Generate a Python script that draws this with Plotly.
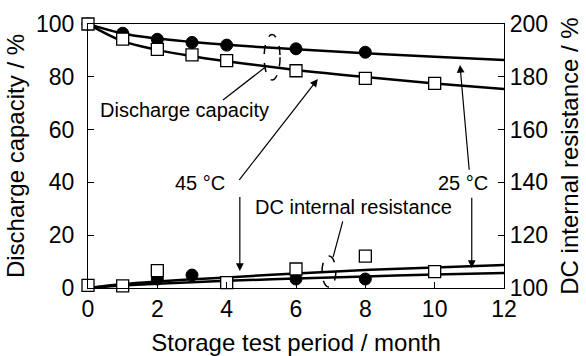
import plotly.graph_objects as go

# ---- data ----
month_cap_25 = [0, 1, 2, 3, 4, 6, 8]
cap_25 = [100, 96.5, 94.2, 93.0, 92.0, 90.6, 89.3]
month_cap_45 = [0, 1, 2, 3, 4, 6, 8, 10]
cap_45 = [100, 94.3, 90.4, 88.3, 86.1, 82.3, 79.4, 77.5]

month_res_45 = [0, 1, 2, 4, 6, 8, 10]
res_45 = [101, 100.8, 106.6, 102.0, 107.2, 112.1, 106.2]
month_res_25 = [2, 3, 6, 8]
res_25 = [103.4, 104.9, 103.4, 103.4]

# fitted curves as drawn
fit_month = [0, 1, 2, 3, 4, 6, 8, 10, 12]
fit_cap_25 = [100, 96.4, 94.5, 93.2, 92.1, 90.4, 88.9, 87.6, 86.4]
fit_cap_45 = [100, 93.5, 90.2, 87.8, 85.9, 82.6, 79.9, 77.5, 75.4]
fit_res_45 = [100, 101.5, 102.5, 103.3, 104.0, 105.5, 106.8, 107.8, 108.7]
fit_res_25 = [100, 100.9, 101.6, 102.2, 102.7, 103.6, 104.4, 105.1, 105.7]

FONT = "Liberation Sans, Arial, sans-serif"

fig = go.Figure()

line_style = dict(color="black", width=2.5)
for y in (fit_cap_25, fit_cap_45):
    fig.add_trace(go.Scatter(x=fit_month, y=y, mode="lines", line=line_style,
                             line_shape="spline", showlegend=False, yaxis="y"))
for y in (fit_res_45, fit_res_25):
    fig.add_trace(go.Scatter(x=fit_month, y=y, mode="lines", line=line_style,
                             line_shape="spline", showlegend=False, yaxis="y2"))

circ = dict(symbol="circle", size=12, color="black", line=dict(color="black", width=1))
sq = dict(symbol="square", size=12, color="white", line=dict(color="black", width=1.3))

fig.add_trace(go.Scatter(x=month_cap_25, y=cap_25, mode="markers", marker=circ,
                         showlegend=False, cliponaxis=False, yaxis="y"))
fig.add_trace(go.Scatter(x=month_res_25, y=res_25, mode="markers", marker=circ,
                         showlegend=False, cliponaxis=False, yaxis="y2"))
fig.add_trace(go.Scatter(x=month_cap_45, y=cap_45, mode="markers", marker=sq,
                         showlegend=False, cliponaxis=False, yaxis="y"))
fig.add_trace(go.Scatter(x=month_res_45, y=res_45, mode="markers", marker=sq,
                         showlegend=False, cliponaxis=False, yaxis="y2"))

# dashed ellipses grouping curves
fig.add_shape(type="circle", xref="x", yref="y", x0=5.08, x1=5.54, y0=78.8, y1=96.0,
              line=dict(color="black", width=1.5, dash="dash"))
fig.add_shape(type="circle", xref="x", yref="y", x0=6.75, x1=7.15, y0=0.4, y1=12.1,
              line=dict(color="black", width=1.5, dash="dash"))

ann_font = dict(family=FONT, size=20, color="black")
# labels
fig.add_annotation(x=2.77, y=67.4, xref="x", yref="y", text="Discharge capacity",
                   showarrow=False, font=ann_font)
fig.add_annotation(x=7.66, y=30.5, xref="x", yref="y", text="DC internal resistance",
                   showarrow=False, font=ann_font)
fig.add_annotation(x=3.23, y=39.6, xref="x", yref="y", text="45 °C",
                   showarrow=False, font=ann_font)
fig.add_annotation(x=10.82, y=39.6, xref="x", yref="y", text="25 °C",
                   showarrow=False, font=ann_font)

# leader lines (label -> ellipse)
line_ann = dict(xref="x", yref="y", axref="x", ayref="y", text="", showarrow=True,
                arrowhead=0, arrowwidth=1.2, arrowcolor="black")
fig.add_annotation(x=5.1, y=83.5, ax=3.85, ay=70.8, **line_ann)
fig.add_annotation(x=7.07, y=11.7, ax=7.36, ay=25.8, **line_ann)

# arrows
arr = dict(xref="x", yref="y", axref="x", ayref="y", text="", showarrow=True,
           arrowhead=2, arrowsize=1.3, arrowwidth=1.2, arrowcolor="black")
fig.add_annotation(x=6.63, y=79.2, ax=4.33, ay=40.4, **arr)
fig.add_annotation(x=4.38, y=6.4, ax=4.38, ay=35.0, **arr)
fig.add_annotation(x=10.73, y=84.5, ax=11.0, ay=44.2, **arr)
fig.add_annotation(x=11.07, y=7.6, ax=11.07, ay=34.8, **arr)

axis_common = dict(showline=True, linecolor="black", linewidth=1.2, ticks="inside",
                   ticklen=6, tickcolor="black", showgrid=False, zeroline=False,
                   automargin=False,
                   tickfont=dict(family=FONT, size=23, color="black"))

fig.update_layout(
    width=586, height=356,
    margin=dict(l=88, r=82, t=24, b=68),
    paper_bgcolor="white", plot_bgcolor="white",
    xaxis=dict(range=[0, 12], tickvals=[0, 2, 4, 6, 8, 10, 12], mirror=True,
               title=dict(text="Storage test period / month",
                          font=dict(family=FONT, size=24, color="black"), standoff=16),
               **axis_common),
    yaxis=dict(range=[0, 100], tickvals=[0, 20, 40, 60, 80, 100], mirror=False,
               ticklabelstandoff=8,
               title=dict(text="Discharge capacity / %",
                          font=dict(family=FONT, size=24, color="black"), standoff=4),
               **axis_common),
    yaxis2=dict(range=[100, 200], tickvals=[100, 120, 140, 160, 180, 200], overlaying="y",
                side="right",
                title=dict(text="DC internal resistance / %",
                           font=dict(family=FONT, size=24, color="black"), standoff=14),
                **axis_common),
)

fig.write_html("out.html")
